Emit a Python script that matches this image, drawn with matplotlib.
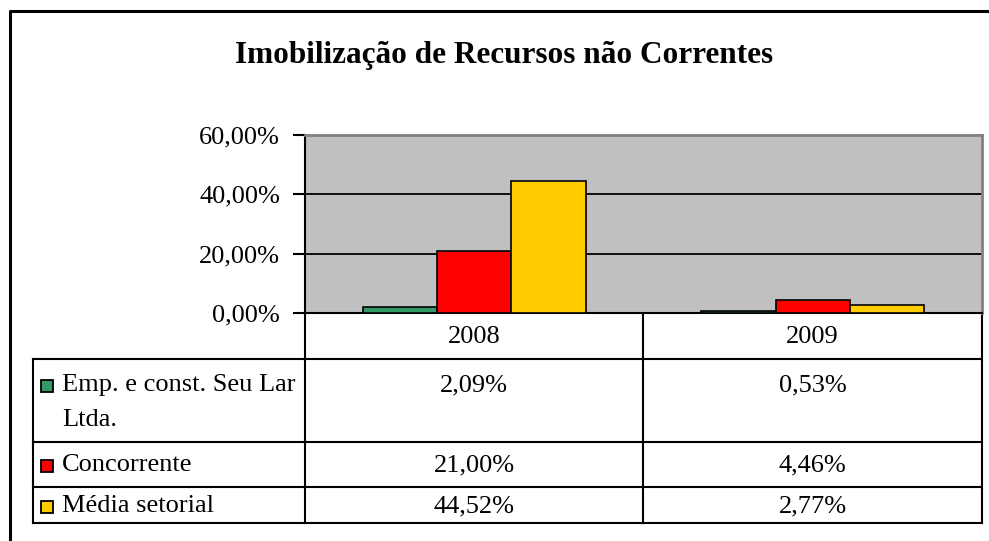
import matplotlib.pyplot as plt
import numpy as np

# ======================================================
# DATA
# ======================================================
years = ["2008", "2009"]
series_names = ["Emp. e const. Seu Lar\nLtda.", "Concorrente", "Média setorial"]
emp_values = [2.09, 0.53]
concorrente_values = [21.00, 4.46]
media_values = [44.52, 2.77]
y_ticks = [0, 20, 40, 60]

series_values = [emp_values, concorrente_values, media_values]
series_colors = ["#339966", "#FF0000", "#FFCC00"]

W, H = 989, 541
FONT = "Liberation Serif"
FS = 19

plt.rcParams["font.family"] = [FONT, "DejaVu Serif"]


def fmt_pct(v):
    return f"{v:.2f}%".replace(".", ",")


fig = plt.figure(figsize=(W / 100, H / 100), dpi=100)
fig.patch.set_facecolor("white")

# overlay in pixel coordinates (frame, title, data table)
ov = fig.add_axes([0, 0, 1, 1])
ov.set_xlim(0, W)
ov.set_ylim(H, 0)
ov.axis("off")

# outer chart frame
ov.plot([10, 10, W + 5], [H + 5, 11, 11], color="black", lw=2.2, solid_capstyle="butt")

ov.text(504, 55, "Imobilização de Recursos não Correntes", ha="center", va="center",
        fontsize=22.5, fontweight="bold", family=FONT)

# ======================================================
# BAR CHART
# ======================================================
px_left, px_right, px_top, px_bottom = 305, 982, 135, 313
ax = fig.add_axes([px_left / W, 1 - px_bottom / H,
                   (px_right - px_left) / W, (px_bottom - px_top) / H])
ax.set_facecolor("#C0C0C0")

x = np.arange(len(years))
bar_w = 0.22
for i, (vals, col) in enumerate(zip(series_values, series_colors)):
    ax.bar(x + (i - 1) * bar_w, vals, width=bar_w, color=col,
           edgecolor="black", linewidth=1.2, zorder=3)

ax.set_xlim(-0.5, len(years) - 0.5)
ax.set_ylim(0, 60)
ax.set_yticks(y_ticks)
ax.set_yticklabels([fmt_pct(t) for t in y_ticks], fontsize=FS, family=FONT)
ax.yaxis.grid(True, color="black", lw=1.3, zorder=1)
ax.set_xticks([])
ax.tick_params(axis="y", length=9, width=1.5, pad=9, direction="out")
for s in ["top", "right"]:
    ax.spines[s].set_color("#808080")
    ax.spines[s].set_linewidth(2)
ax.spines["left"].set_linewidth(1.5)
ax.spines["bottom"].set_linewidth(1.5)

# ======================================================
# DATA TABLE
# ======================================================
tab_left, col1, col2, tab_right = 33, 305, 643, 982
row_lines = [359, 442, 487, 523]
text_offsets = [26, 23, 19]
lc = "black"
lw = 1.5

ov.plot([col1, col1], [px_bottom, row_lines[-1]], color=lc, lw=lw)
ov.plot([col2, col2], [px_bottom, row_lines[-1]], color=lc, lw=lw)
ov.plot([tab_right, tab_right], [px_bottom, row_lines[-1]], color=lc, lw=lw)
ov.plot([tab_left, tab_left], [row_lines[0], row_lines[-1]], color=lc, lw=lw)
for yl in row_lines:
    ov.plot([tab_left, tab_right], [yl, yl], color=lc, lw=lw)

col_centers = [(col1 + col2) / 2, (col2 + tab_right) / 2]
for cx, yr in zip(col_centers, years):
    ov.text(cx, (px_bottom + row_lines[0]) / 2 + 1, yr, ha="center", va="center",
            fontsize=FS, family=FONT)

row_tops = row_lines[:-1]
for r, (name, vals, col) in enumerate(zip(series_names, series_values, series_colors)):
    cy = row_tops[r] + text_offsets[r]
    ov.add_patch(plt.Rectangle((41, cy - 5), 12, 12, facecolor=col,
                               edgecolor="black", lw=1.3, zorder=4))
    for k, line in enumerate(name.split("\n")):
        ov.text(62, cy + 35 * k, line, ha="left", va="center", fontsize=FS, family=FONT)
    for cx, v in zip(col_centers, vals):
        ov.text(cx, cy, fmt_pct(v), ha="center", va="center",
                fontsize=FS, family=FONT)

fig.savefig("out.png", dpi=100)
